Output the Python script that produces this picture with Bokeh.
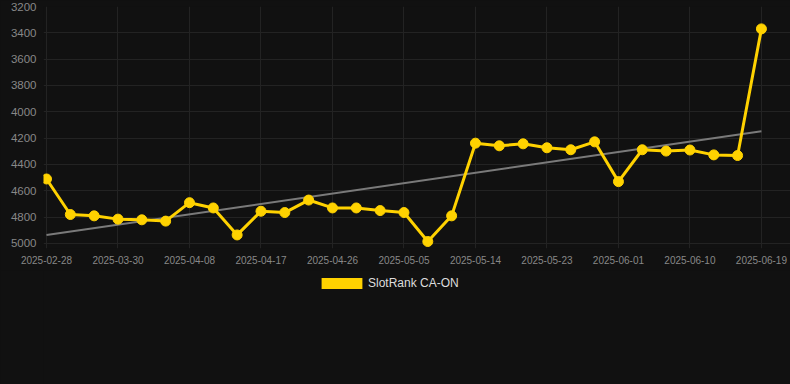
import numpy as np
from bokeh.plotting import figure
from bokeh.layouts import column
from bokeh.models import Range1d, FixedTicker, Legend, LegendItem
from bokeh.embed import file_html
from bokeh.resources import INLINE

dates = ["2025-02-28", "2025-03-24", "2025-03-27", "2025-03-30", "2025-04-02",
         "2025-04-05", "2025-04-08", "2025-04-11", "2025-04-14", "2025-04-17",
         "2025-04-20", "2025-04-23", "2025-04-26", "2025-04-29", "2025-05-02",
         "2025-05-05", "2025-05-08", "2025-05-11", "2025-05-14", "2025-05-17",
         "2025-05-20", "2025-05-23", "2025-05-26", "2025-05-29", "2025-06-01",
         "2025-06-04", "2025-06-07", "2025-06-10", "2025-06-13", "2025-06-16",
         "2025-06-19"]
ranks = [4510, 4780, 4790, 4815, 4820, 4830, 4690, 4730, 4935, 4755,
         4765, 4670, 4730, 4730, 4750, 4765, 4985, 4790, 4238, 4258,
         4243, 4273, 4288, 4228, 4530, 4288, 4298, 4290, 4327, 4332,
         3370]
y_ticks = [3200, 3400, 3600, 3800, 4000, 4200, 4400, 4600, 4800, 5000]
series_name = "SlotRank CA-ON"

BG = "#111111"
GRID = "#232323"
YELLOW = "#FFD200"
FONT = "Liberation Sans"

idx = list(range(len(dates)))
slope, intercept = np.polyfit(idx, ranks, 1)
trend_x = [idx[0], idx[-1]]
trend_y = [intercept + slope * idx[0], intercept + slope * idx[-1]]

p = figure(width=790, height=270, output_backend="svg", toolbar_location=None,
           x_range=Range1d(-0.126, 31.22), y_range=Range1d(5038, 3200),
           min_border_left=43, min_border_right=0, min_border_top=6,
           min_border_bottom=22)
p.background_fill_color = BG
p.border_fill_color = BG
p.outline_line_color = None

p.line(trend_x, trend_y, line_color="#7a7a7a", line_width=2)
p.line(idx, ranks, line_color=YELLOW, line_width=3)
p.scatter(idx, ranks, size=10, fill_color=YELLOW, line_color=YELLOW)

p.xaxis.ticker = FixedTicker(ticks=idx[::3])
p.xaxis.major_label_overrides = {i: dates[i] for i in idx[::3]}
p.yaxis.ticker = FixedTicker(ticks=y_ticks)

for ax in (p.xaxis[0], p.yaxis[0]):
    ax.major_tick_out = 0
    ax.major_tick_in = 0
    ax.minor_tick_out = 0
    ax.minor_tick_in = 0
    ax.major_label_text_font = FONT
    ax.major_label_text_color = "#888888"
    ax.axis_line_color = None
p.xaxis.major_label_text_font_size = "10px"
p.yaxis.major_label_text_font_size = "11.5px"
p.xaxis.major_label_standoff = 7
p.yaxis.major_label_standoff = 7

p.xgrid.grid_line_color = GRID
p.ygrid.grid_line_color = GRID

# legend strip below the chart
q = figure(width=790, height=114, output_backend="svg", toolbar_location=None,
           min_border=0)
q.background_fill_color = BG
q.border_fill_color = BG
q.outline_line_color = None
q.axis.visible = False
q.grid.visible = False
key = q.block(x=idx, y=ranks, width=0, height=0, fill_color=YELLOW, line_color=None)
legend = Legend(items=[LegendItem(label=series_name, renderers=[key])],
                location=(273, 94), orientation="horizontal",
                glyph_width=51, glyph_height=14, label_height=14,
                label_standoff=1, padding=0, margin=0, spacing=0,
                label_text_font=FONT, label_text_font_size="12px",
                label_text_color="#dddddd", label_text_baseline="middle",
                background_fill_alpha=0, border_line_alpha=0)
q.add_layout(legend, "center")

layout = column(p, q, spacing=0)
html = file_html(layout, INLINE)
html = html.replace("<head>", "<head><style>body{background:#111111;}</style>", 1)
open("out.html", "w").write(html)
